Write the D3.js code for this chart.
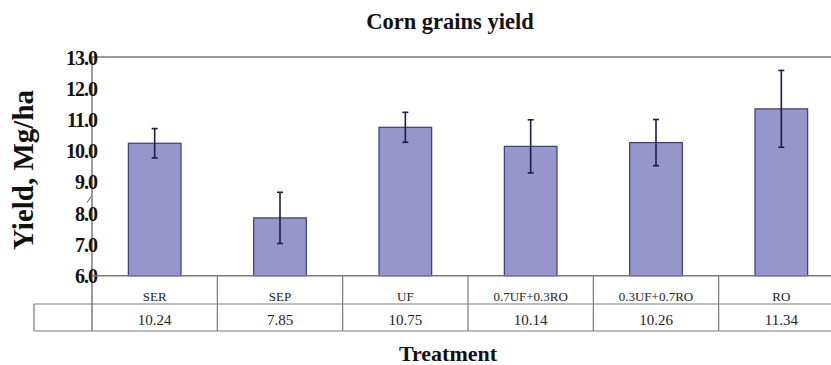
<!DOCTYPE html>
<html><head><meta charset="utf-8">
<script src="https://cdn.jsdelivr.net/npm/d3@7"></script>
<style>body{margin:0;background:#fff}svg{display:block}</style>
</head><body>
<script>
const categories = ["SER","SEP","UF","0.7UF+0.3RO","0.3UF+0.7RO","RO"];
const yields = [10.24, 7.85, 10.75, 10.14, 10.26, 11.34];
const errors = [0.47, 0.82, 0.48, 0.85, 0.74, 1.23];
const yTicks = [6,7,8,9,10,11,12,13];
const title = "Corn grains yield";
const yTitle = "Yield, Mg/ha";
const xTitle = "Treatment";

(function(){
const FF = "'Liberation Serif', 'Times New Roman', serif";
const W = 831, H = 365;
const svg = d3.select("body").append("svg").attr("width", W).attr("height", H).attr("font-family", FF);
const pL = 92, pR = 844, pT = 57, pB = 275.7;
const y = d3.scaleLinear().domain([6, 13]).range([pB, pT]);
const x = d3.scaleBand().domain(categories).range([pL, pR]);
const bw = x.bandwidth() * 0.42;
const lineCol = "#7a7a7a";

svg.append("line").attr("x1", pL).attr("x2", W).attr("y1", pT).attr("y2", pT).attr("stroke", lineCol).attr("stroke-width", 1.5);

svg.selectAll("rect.bar").data(categories).join("rect").attr("class","bar")
  .attr("x", d => x(d) + (x.bandwidth() - bw) / 2)
  .attr("width", bw)
  .attr("y", (d, i) => y(yields[i]))
  .attr("height", (d, i) => pB - y(yields[i]))
  .attr("fill", "#9696cc").attr("stroke", "#3b3b78").attr("stroke-width", 1.2);

const eg = svg.append("g").attr("stroke", "#1c1c4a").attr("stroke-width", 1.6);
categories.forEach((c, i) => {
  const cx = x(c) + x.bandwidth() / 2;
  const y1 = y(yields[i] + errors[i]), y2 = y(yields[i] - errors[i]);
  eg.append("line").attr("x1", cx).attr("x2", cx).attr("y1", y1).attr("y2", y2);
  eg.append("line").attr("x1", cx - 3).attr("x2", cx + 3).attr("y1", y1).attr("y2", y1);
  eg.append("line").attr("x1", cx - 3).attr("x2", cx + 3).attr("y1", y2).attr("y2", y2);
});

const yAxis = d3.axisLeft(y).tickValues(yTicks).tickSize(0).tickFormat(d3.format(".1f"));
const ga = svg.append("g").attr("transform", `translate(${pL},0)`).call(yAxis).attr("font-family", FF);
ga.select(".domain").attr("stroke", lineCol).attr("stroke-width", 1.5).attr("d", `M0,${pT}V${pB + 55}`);
ga.selectAll("text").attr("x", 5).attr("dy", "0.35em")
  .attr("font-weight", "bold").attr("font-size", 20)
  .attr("letter-spacing", "-1").attr("fill", "#111");
svg.append("line").attr("x1", pL - 5).attr("x2", pL - 1).attr("y1", y(8.5) + 5).attr("y2", y(8.5) - 1)
  .attr("stroke", "#555").attr("stroke-width", 1);

svg.append("line").attr("x1", pL).attr("x2", W).attr("y1", pB).attr("y2", pB).attr("stroke", lineCol).attr("stroke-width", 1.5);

const r1 = 304, r2 = 331;
const tg = svg.append("g").attr("stroke", lineCol).attr("stroke-width", 1.2);
tg.append("line").attr("x1", 34).attr("x2", W).attr("y1", r1).attr("y2", r1);
tg.append("line").attr("x1", 34).attr("x2", W).attr("y1", r2).attr("y2", r2);
tg.append("line").attr("x1", 34).attr("x2", 34).attr("y1", r1).attr("y2", r2);
categories.forEach(c => {
  const bx = x(c) + x.bandwidth();
  tg.append("line").attr("x1", bx).attr("x2", bx).attr("y1", pB).attr("y2", r2);
});
svg.selectAll("text.cat").data(categories).join("text").attr("class","cat")
  .attr("x", d => x(d) + x.bandwidth() / 2).attr("y", 300.5)
  .attr("text-anchor", "middle").attr("font-size", 13).attr("fill", "#222").text(d => d);
svg.selectAll("text.val").data(categories).join("text").attr("class","val")
  .attr("x", d => x(d) + x.bandwidth() / 2).attr("y", 325)
  .attr("text-anchor", "middle").attr("font-size", 15).attr("fill", "#222")
  .text((d, i) => yields[i].toFixed(2));

svg.append("text").attr("x", 450).attr("y", 29).attr("text-anchor", "middle")
  .attr("font-weight", "bold").attr("font-size", 22.5).attr("fill", "#111").text(title);
svg.append("text").attr("x", 448).attr("y", 361).attr("text-anchor", "middle")
  .attr("font-weight", "bold").attr("font-size", 22).attr("fill", "#111").text(xTitle);
svg.append("text").attr("transform", "translate(33,170) rotate(-90)").attr("text-anchor", "middle")
  .attr("font-weight", "bold").attr("font-size", 29).attr("fill", "#111").text(yTitle);
})();
</script>
</body></html>
